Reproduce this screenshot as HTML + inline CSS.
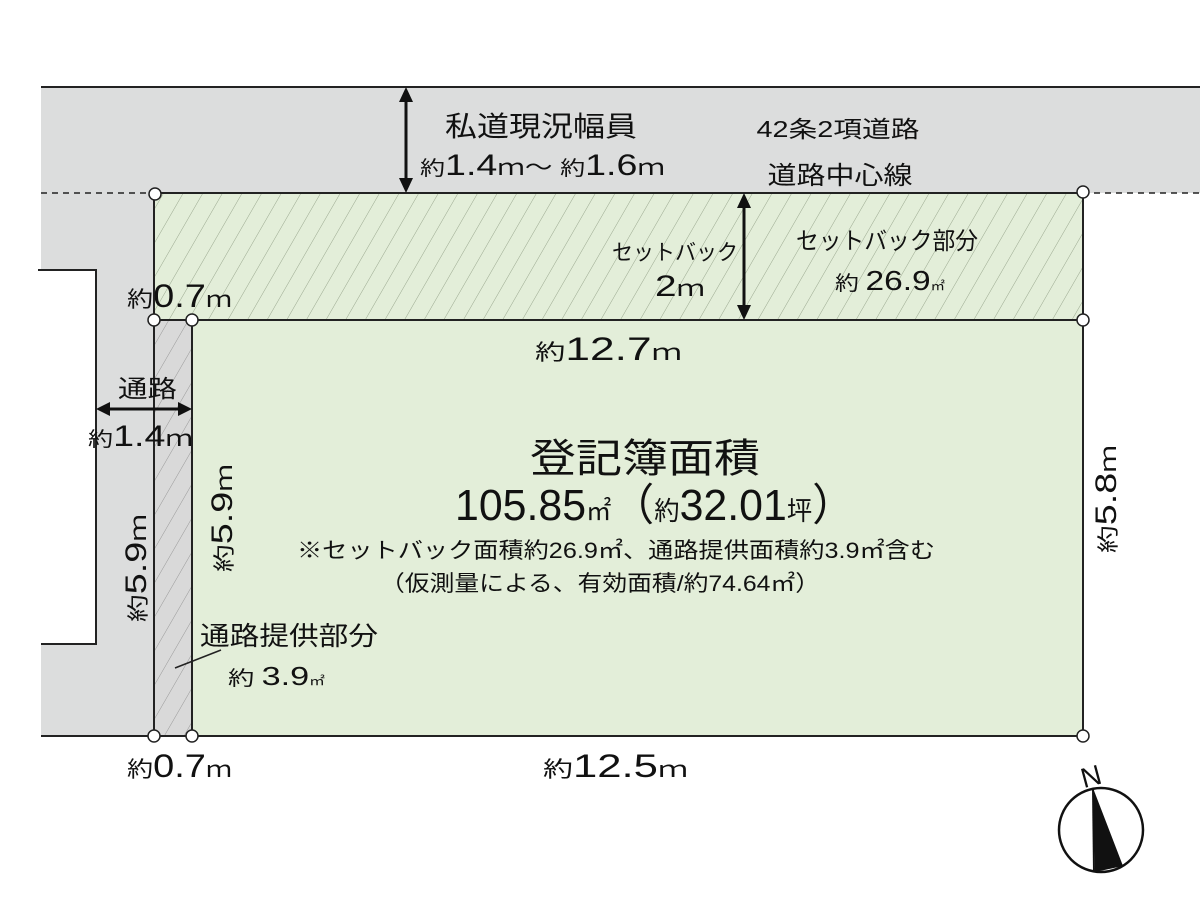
<!DOCTYPE html>
<html><head><meta charset="utf-8"><style>
html,body{margin:0;padding:0;background:#fff;}
svg{display:block;}
text{font-family:"Liberation Sans","Noto Sans CJK JP",sans-serif;fill:#111;}
</style></head><body>
<svg width="1200" height="900" viewBox="0 0 1200 900" xmlns="http://www.w3.org/2000/svg">
<defs>
<pattern id="h" patternUnits="userSpaceOnUse" width="17" height="17" patternTransform="rotate(30)">
<line x1="0" y1="0" x2="0" y2="17" stroke="#9aa88f" stroke-width="1"/>
</pattern>
<pattern id="h2" patternUnits="userSpaceOnUse" width="17" height="17" patternTransform="rotate(30)">
<line x1="0" y1="0" x2="0" y2="17" stroke="#999" stroke-width="1"/>
</pattern>
</defs>
<rect x="41" y="87" width="1159" height="106" fill="#dcdddd"/>
<line x1="41" y1="87" x2="1200" y2="87" stroke="#222" stroke-width="2"/>
<rect x="41" y="193" width="113" height="543" fill="#dcdddd"/>
<rect x="38" y="270" width="58" height="374" fill="#fff"/>
<polyline points="38,270 96,270 96,644 41,644" fill="none" stroke="#222" stroke-width="2"/>
<line x1="41" y1="193" x2="154" y2="193" stroke="#222" stroke-width="1.5" stroke-dasharray="6,5"/>
<line x1="1083" y1="193" x2="1200" y2="193" stroke="#222" stroke-width="1.5" stroke-dasharray="6,5"/>
<rect x="154" y="193" width="929" height="127" fill="#e3eed9"/>
<rect x="154" y="193" width="929" height="127" fill="url(#h)"/>
<rect x="154" y="320" width="38" height="416" fill="#d9d9d9"/>
<rect x="154" y="320" width="38" height="416" fill="url(#h2)"/>
<rect x="192" y="320" width="891" height="416" fill="#e3eed9"/>
<g stroke="#222" stroke-width="2" fill="none">
<rect x="154" y="193" width="929" height="127"/>
<line x1="154" y1="320" x2="154" y2="736"/>
<line x1="192" y1="320" x2="192" y2="736"/>
<line x1="1083" y1="320" x2="1083" y2="736"/>
<line x1="41" y1="736" x2="1083" y2="736"/>
</g>
<g stroke="#111" stroke-width="3">
<line x1="406" y1="98" x2="406" y2="182"/>
<line x1="744" y1="204" x2="744" y2="309"/>
<line x1="106" y1="409" x2="182" y2="409"/>
</g>
<g fill="#111">
<polygon points="406,87 399,102 413,102"/><polygon points="406,193 399,178 413,178"/>
<polygon points="744,193 737,208 751,208"/><polygon points="744,320 737,305 751,305"/>
<polygon points="96,409 110,402 110,416"/><polygon points="192,409 178,402 178,416"/>
</g>
<line x1="175" y1="668" x2="221" y2="650" stroke="#222" stroke-width="1.5"/>
<g fill="#fff" stroke="#222" stroke-width="1.5">
<circle cx="155" cy="194" r="6"/><circle cx="1083" cy="192" r="6"/>
<circle cx="154" cy="320" r="6"/><circle cx="192" cy="320" r="6"/><circle cx="1083" cy="320" r="6"/>
<circle cx="154" cy="736" r="6"/><circle cx="192" cy="736" r="6"/><circle cx="1083" cy="736" r="6"/>
</g>
<circle cx="1101" cy="830" r="42" fill="#fff" stroke="#111" stroke-width="2.5"/>
<polygon points="1093,788 1123,866 1095,872" fill="#111"/>
<line x1="1093" y1="788" x2="1094" y2="872" stroke="#111" stroke-width="2"/>
<text x="1091" y="786" font-size="28" transform="rotate(-15 1091 776)" text-anchor="middle">N</text>
<text x="541" y="136" font-size="28" text-anchor="middle" textLength="192" lengthAdjust="spacingAndGlyphs">私道現況幅員</text>
<text x="420" y="175" font-size="30" textLength="245" lengthAdjust="spacingAndGlyphs"><tspan font-size="20">約</tspan>1.4<tspan font-size="22">ｍ～ </tspan><tspan font-size="20">約</tspan>1.6<tspan font-size="22">ｍ</tspan></text>
<text x="838" y="137" font-size="23" text-anchor="middle" textLength="163" lengthAdjust="spacingAndGlyphs">42条2項道路</text>
<text x="840" y="184" font-size="25" text-anchor="middle" textLength="145" lengthAdjust="spacingAndGlyphs">道路中心線</text>
<text x="675" y="260" font-size="22" text-anchor="middle" textLength="126" lengthAdjust="spacingAndGlyphs">セットバック</text>
<text x="655" y="296" font-size="30" textLength="50" lengthAdjust="spacingAndGlyphs">2<tspan font-size="22">ｍ</tspan></text>
<text x="887" y="249" font-size="24" text-anchor="middle" textLength="182" lengthAdjust="spacingAndGlyphs">セットバック部分</text>
<text x="835" y="290" font-size="28" textLength="110" lengthAdjust="spacingAndGlyphs"><tspan font-size="20">約 </tspan>26.9<tspan font-size="12">㎡</tspan></text>
<text x="127" y="307" font-size="32" textLength="105" lengthAdjust="spacingAndGlyphs"><tspan font-size="22">約</tspan>0.7<tspan font-size="22">ｍ</tspan></text>
<text x="535" y="360" font-size="32" textLength="147" lengthAdjust="spacingAndGlyphs"><tspan font-size="22">約</tspan>12.7<tspan font-size="22">ｍ</tspan></text>
<text x="118" y="397" font-size="24" textLength="59" lengthAdjust="spacingAndGlyphs">通路</text>
<text x="88" y="446" font-size="30" textLength="105" lengthAdjust="spacingAndGlyphs"><tspan font-size="20">約</tspan>1.4<tspan font-size="22">ｍ</tspan></text>
<text x="645" y="472" font-size="40" text-anchor="middle" textLength="230" lengthAdjust="spacingAndGlyphs">登記簿面積</text>
<text x="455" y="520" font-size="44" textLength="400" lengthAdjust="spacingAndGlyphs">105.85<tspan font-size="26">㎡</tspan>（<tspan font-size="26">約</tspan>32.01<tspan font-size="26">坪</tspan>）</text>
<text x="297" y="558" font-size="22" textLength="638" lengthAdjust="spacingAndGlyphs">※セットバック面積約26.9㎡、通路提供面積約3.9㎡含む</text>
<text x="380" y="591" font-size="22" textLength="440" lengthAdjust="spacingAndGlyphs">（仮測量による、有効面積/約74.64㎡）</text>
<text transform="translate(232,572) rotate(-90)" font-size="30" textLength="108" lengthAdjust="spacingAndGlyphs"><tspan font-size="22">約</tspan>5.9<tspan font-size="22">ｍ</tspan></text>
<text transform="translate(146,622) rotate(-90)" font-size="30" textLength="108" lengthAdjust="spacingAndGlyphs"><tspan font-size="22">約</tspan>5.9<tspan font-size="22">ｍ</tspan></text>
<text transform="translate(1116,553) rotate(-90)" font-size="30" textLength="108" lengthAdjust="spacingAndGlyphs"><tspan font-size="22">約</tspan>5.8<tspan font-size="22">ｍ</tspan></text>
<text x="200" y="645" font-size="26" textLength="178" lengthAdjust="spacingAndGlyphs">通路提供部分</text>
<text x="228" y="685" font-size="26" textLength="97" lengthAdjust="spacingAndGlyphs"><tspan font-size="20">約 </tspan> 3.9<tspan font-size="12">㎡</tspan></text>
<text x="127" y="777" font-size="32" textLength="105" lengthAdjust="spacingAndGlyphs"><tspan font-size="22">約</tspan>0.7<tspan font-size="22">ｍ</tspan></text>
<text x="543" y="777" font-size="32" textLength="145" lengthAdjust="spacingAndGlyphs"><tspan font-size="22">約</tspan>12.5<tspan font-size="22">ｍ</tspan></text>
</svg>
</body></html>
